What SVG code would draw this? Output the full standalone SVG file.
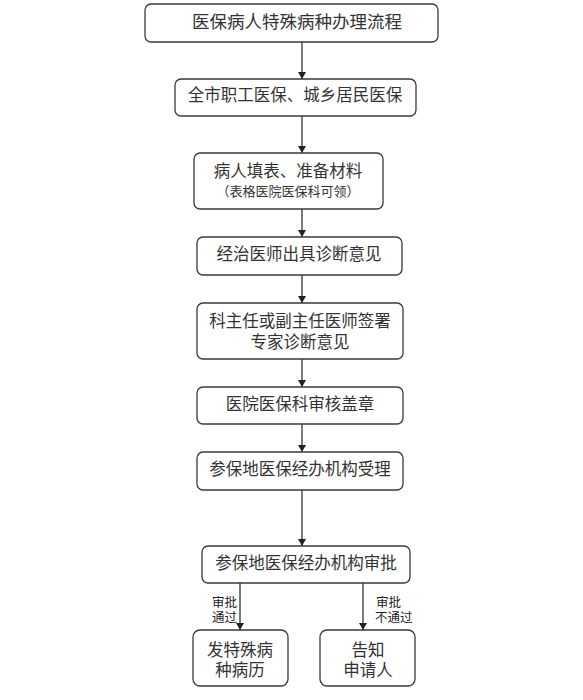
<svg xmlns="http://www.w3.org/2000/svg" width="583" height="700" viewBox="0 0 583 700">
<defs>
<marker id="ah" viewBox="0 0 10 10" refX="10" refY="5" markerWidth="7" markerHeight="8" markerUnits="userSpaceOnUse" orient="auto" preserveAspectRatio="none">
<path d="M0,0 L10,5 L0,10 Z" fill="#222"/>
</marker>
<style>
.box{fill:#fff;stroke:#3a3a3a;stroke-width:1.3}
.t{font-family:"Liberation Sans","Noto Sans CJK SC",sans-serif;font-size:16.5px;fill:#333;text-anchor:middle}
.s{font-family:"Liberation Sans","Noto Sans CJK SC",sans-serif;font-size:13px;fill:#333;text-anchor:middle}
.l{font-family:"Liberation Sans","Noto Sans CJK SC",sans-serif;font-size:12.5px;fill:#222}
.c{stroke:#222;stroke-width:1.2;fill:none;marker-end:url(#ah)}
</style>
</defs>
<rect width="583" height="700" fill="#fff"/>
<g id="connectors">
<line class="c" x1="302" y1="42" x2="302" y2="79"/>
<line class="c" x1="302" y1="116" x2="302" y2="153"/>
<line class="c" x1="302" y1="209" x2="302" y2="237"/>
<line class="c" x1="302" y1="275" x2="302" y2="303"/>
<line class="c" x1="302" y1="359" x2="302" y2="387"/>
<line class="c" x1="302" y1="424" x2="302" y2="452"/>
<line class="c" x1="302" y1="490" x2="302" y2="546"/>
<line class="c" x1="240" y1="583" x2="240" y2="630"/>
<line class="c" x1="363" y1="583" x2="363" y2="630"/>
<text class="l" x="212" y="607">审批</text>
<text class="l" x="212" y="622">通过</text>
<text class="l" x="376" y="607">审批</text>
<text class="l" x="375" y="622">不通过</text>
</g>
<g id="n1"><rect class="box" x="145" y="4" width="293" height="38" rx="6"/><text class="t" x="297" y="28" style="font-size:17.5px">医保病人特殊病种办理流程</text></g>
<g id="n2"><rect class="box" x="175" y="79" width="241" height="37" rx="6"/><text class="t" x="295" y="101">全市职工医保、城乡居民医保</text></g>
<g id="n3"><rect class="box" x="194" y="153" width="189" height="56" rx="6"/><text class="t" x="288" y="177">病人填表、准备材料</text><text class="s" x="288" y="196">（表格医院医保科可领）</text></g>
<g id="n4"><rect class="box" x="197" y="237" width="205" height="38" rx="6"/><text class="t" x="299" y="260">经治医师出具诊断意见</text></g>
<g id="n5"><rect class="box" x="197" y="303" width="206" height="56" rx="6"/><text class="t" x="300" y="327">科主任或副主任医师签署</text><text class="t" x="300" y="348">专家诊断意见</text></g>
<g id="n6"><rect class="box" x="197" y="387" width="206" height="37" rx="6"/><text class="t" x="300" y="410">医院医保科审核盖章</text></g>
<g id="n7"><rect class="box" x="197" y="452" width="206" height="38" rx="6"/><text class="t" x="300" y="475">参保地医保经办机构受理</text></g>
<g id="n8"><rect class="box" x="202" y="546" width="208" height="37" rx="6"/><text class="t" x="306" y="569">参保地医保经办机构审批</text></g>
<g id="n9"><rect class="box" x="193" y="630" width="95" height="56" rx="7"/><text class="t" x="240" y="656">发特殊病</text><text class="t" x="240" y="676">种病历</text></g>
<g id="n10"><rect class="box" x="320" y="630" width="95" height="56" rx="7"/><text class="t" x="368" y="656">告知</text><text class="t" x="368" y="676">申请人</text></g>
</svg>
